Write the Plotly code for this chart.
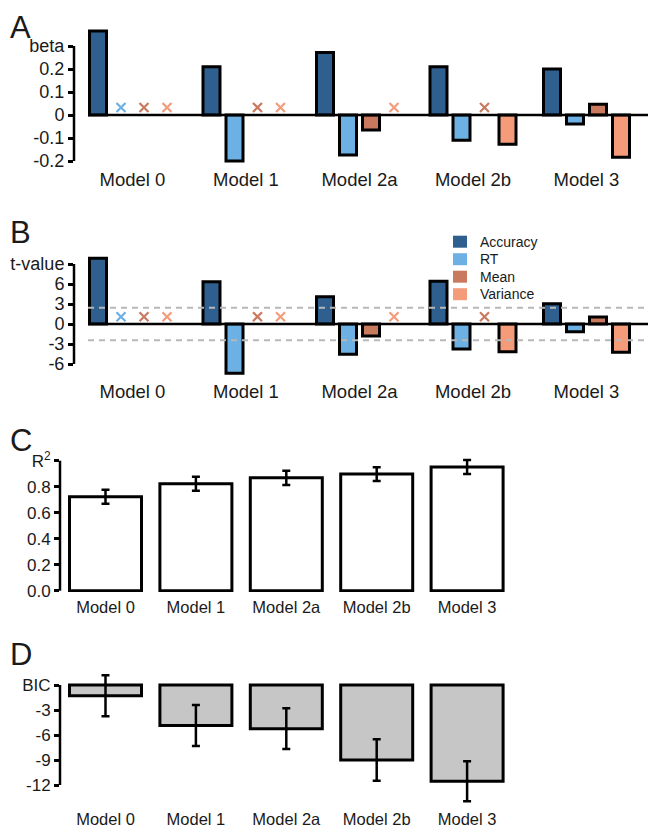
import plotly.graph_objects as go

# the page body adds an 8px margin; the figure fills the rest of the 656x830 window
PAGE_W, PAGE_H, BODY = 656, 830, 8
W, H = PAGE_W - BODY, PAGE_H - BODY

# ---------------- data ----------------
models = ["Model 0", "Model 1", "Model 2a", "Model 2b", "Model 3"]
predictors = ["Accuracy", "RT", "Mean", "Variance"]
pred_colors = ["#2f5f8e", "#6cb0e4", "#c97a5e", "#f49c7a"]

beta_accuracy = [0.365, 0.21, 0.272, 0.21, 0.2]
beta_rt = [None, -0.2, -0.174, -0.11, -0.039]
beta_mean = [None, None, -0.065, None, 0.047]
beta_variance = [None, None, None, -0.127, -0.184]
beta_ticks = [-0.2, -0.1, 0, 0.1, 0.2, 0.3]
beta_ticktext = ["-0.2", "-0.1", "0", "0.1", "0.2", "beta"]

t_accuracy = [9.85, 6.35, 4.1, 6.4, 3.05]
t_rt = [None, -7.4, -4.55, -3.75, -1.15]
t_mean = [None, None, -1.8, None, 1.05]
t_variance = [None, None, None, -4.15, -4.25]
t_threshold = 2.45
t_ticks = [-6, -3, 0, 3, 6, 9]
t_ticktext = ["-6", "-3", "0", "3", "6", "t-value"]

r2_mean = [0.723, 0.823, 0.868, 0.897, 0.951]
r2_err = [0.054, 0.054, 0.055, 0.053, 0.054]
r2_ticks = [0.0, 0.2, 0.4, 0.6, 0.8, 1.0]
r2_ticktext = ["0.0", "0.2", "0.4", "0.6", "0.8", "R<sup>2</sup>"]

bic_mean = [-1.3, -4.87, -5.24, -9.0, -11.56]
bic_err = [2.46, 2.46, 2.44, 2.5, 2.4]
bic_ticks = [-12, -9, -6, -3, 0]
bic_ticktext = ["-12", "-9", "-6", "-3", "BIC"]

# ---------------- layout helpers (page pixels -> paper/ranges) ----------------
FONT = "Liberation Sans, Arial, sans-serif"
TXT = "#1a1a1a"
OUT = 3  # outline width


def px_x(p):
    return (p - BODY) / W


def px_y(p):
    return 1 - (p - BODY) / H


def ydom(top, bot):
    return [px_y(bot), px_y(top)]


def xdom(left, right):
    return [px_x(left), px_x(right)]


def yrange(zero_px, ppu, top, bot):
    return [(zero_px - bot) / ppu, (zero_px - top) / ppu]


def xrange(center0_px, ppu, left, right):
    return [(left - center0_px) / ppu, (right - center0_px) / ppu]


fig = go.Figure()

AB_X0, AB_PPU, AB_L, AB_R = 132.5, 113.5, 74, 656
CD_X0, CD_PPU, CD_L, CD_R = 105.5, 90.4, 60, 512
slot = 23 / AB_PPU
bw = (20 - OUT) / AB_PPU

panels = {
    "A": dict(zero=115, ppu=230, top=27, bot=163),
    "B": dict(zero=324, ppu=20 / 3, top=255, bot=375),
    "C": dict(zero=590.7, ppu=130, top=452, bot=592),
    "D": dict(zero=685, ppu=25 / 3, top=670, bot=804),
}

grouped = [
    ("x", "y", [beta_accuracy, beta_rt, beta_mean, beta_variance], 0.033),
    ("x2", "y2", [t_accuracy, t_rt, t_mean, t_variance], 1.1),
]

for xa, ya, series, xmark_y in grouped:
    for j, vals in enumerate(series):
        xs = [i + (j - 1.5) * slot for i in range(len(models))]
        fig.add_trace(go.Bar(
            x=[x for x, v in zip(xs, vals) if v is not None],
            y=[v for v in vals if v is not None],
            width=bw, name=predictors[j],
            marker=dict(color=pred_colors[j], line=dict(color="black", width=OUT)),
            xaxis=xa, yaxis=ya, showlegend=False, hoverinfo="skip",
        ))
        miss = [x for x, v in zip(xs, vals) if v is None]
        if miss:
            fig.add_trace(go.Scatter(
                x=miss, y=[xmark_y] * len(miss), mode="markers",
                marker=dict(symbol="x-thin", size=9,
                            line=dict(color=pred_colors[j], width=2.2)),
                xaxis=xa, yaxis=ya, showlegend=False, hoverinfo="skip",
            ))

# panel C
fig.add_trace(go.Bar(
    x=list(range(len(models))), y=r2_mean, width=(75 - OUT) / CD_PPU,
    marker=dict(color="white", line=dict(color="black", width=OUT)),
    error_y=dict(type="data", array=r2_err, color="black", thickness=2.5, width=4),
    xaxis="x3", yaxis="y3", showlegend=False, hoverinfo="skip",
))

# panel D
fig.add_trace(go.Bar(
    x=list(range(len(models))), y=bic_mean, width=(75 - OUT) / CD_PPU,
    marker=dict(color="#c6c6c6", line=dict(color="black", width=OUT)),
    error_y=dict(type="data", array=bic_err, color="black", thickness=2.5, width=4),
    xaxis="x4", yaxis="y4", showlegend=False, hoverinfo="skip",
))

ytf_ab = dict(family=FONT, size=18, color=TXT)
xtf_ab = dict(family=FONT, size=18.5, color=TXT)
ytf_cd = dict(family=FONT, size=17, color=TXT)
xtf_cd = dict(family=FONT, size=16.5, color=TXT)

axes = {}
specs = [
    ("A", "", AB_X0, AB_PPU, AB_L, AB_R, beta_ticks, beta_ticktext, ytf_ab, xtf_ab),
    ("B", "2", AB_X0, AB_PPU, AB_L, AB_R, t_ticks, t_ticktext, ytf_ab, xtf_ab),
    ("C", "3", CD_X0, CD_PPU, CD_L, CD_R, r2_ticks, r2_ticktext, ytf_cd, xtf_cd),
    ("D", "4", CD_X0, CD_PPU, CD_L, CD_R, bic_ticks, bic_ticktext, ytf_cd, xtf_cd),
]
shapes = []
for key, sfx, x0px, xppu, xl, xr, tv, tt, ytf, xtf in specs:
    p = panels[key]
    xr_ = xrange(x0px, xppu, xl, xr)
    yr_ = yrange(p["zero"], p["ppu"], p["top"], p["bot"])
    axes["xaxis" + sfx] = dict(
        domain=xdom(xl, xr), range=xr_, anchor="y" + sfx, automargin=False,
        tickvals=list(range(len(models))), ticktext=models,
        showgrid=False, zeroline=False, showline=False, ticks="",
        tickfont=xtf, ticklabelstandoff=3,
    )
    axes["yaxis" + sfx] = dict(
        domain=ydom(p["top"], p["bot"]), range=yr_, anchor="x" + sfx, automargin=False,
        tickvals=tv, ticktext=tt, showgrid=False, zeroline=False,
        showline=False, ticks="outside", ticklen=5, tickwidth=2.5,
        tickcolor="black", tickfont=ytf,
    )
    shapes.append(dict(type="line", xref=f"x{sfx} domain", yref="y" + sfx,
                       x0=0, x1=0, y0=min(tv), y1=max(tv),
                       line=dict(color="black", width=2.5)))
    if key in ("A", "B"):
        start = -1.5 * slot - 10 / AB_PPU
        shapes.append(dict(type="line", xref="x" + sfx, yref="y" + sfx,
                           x0=start, x1=xr_[1], y0=0, y1=0, layer="above",
                           line=dict(color="black", width=2.5)))
    if key == "B":
        for yv in (t_threshold, -t_threshold):
            shapes.append(dict(type="line", xref="x2", yref="y2",
                               x0=start, x1=xr_[1], y0=yv, y1=yv, layer="above",
                               line=dict(color="#b8b8b8", width=2, dash="6px,5px")))

annotations = []
# panel letters (left edge of glyph in page px, kept inside the figure)
for t, lx, cy in [("A", 9, 28), ("B", 9, 232), ("C", 9, 440), ("D", 9, 654)]:
    annotations.append(dict(
        text=t, x=px_x(lx), y=px_y(cy), xref="paper", yref="paper",
        xanchor="left", yanchor="middle", showarrow=False, borderpad=0,
        font=dict(family=FONT, size=31, color=TXT)))

# legend for panel B (swatches + labels)
LEG_X, LEG_Y0, LEG_DY = 453, 241.7, 17.5
for k, (name, c) in enumerate(zip(predictors, pred_colors)):
    cy = LEG_Y0 + k * LEG_DY
    shapes.append(dict(type="rect", xref="paper", yref="paper",
                       x0=px_x(LEG_X), x1=px_x(LEG_X + 14),
                       y0=px_y(cy + 6), y1=px_y(cy - 6),
                       fillcolor=c, line=dict(width=0)))
    annotations.append(dict(
        text=name, x=px_x(LEG_X + 25), y=px_y(cy), xref="paper", yref="paper",
        xanchor="left", yanchor="middle", showarrow=False,
        font=dict(family=FONT, size=14, color=TXT)))

fig.update_layout(
    width=W, height=H, margin=dict(l=0, r=0, t=0, b=0, autoexpand=False),
    paper_bgcolor="white", plot_bgcolor="white",
    barmode="overlay", shapes=shapes, annotations=annotations,
    showlegend=False,
    **axes,
)

fig.write_html("out.html")
